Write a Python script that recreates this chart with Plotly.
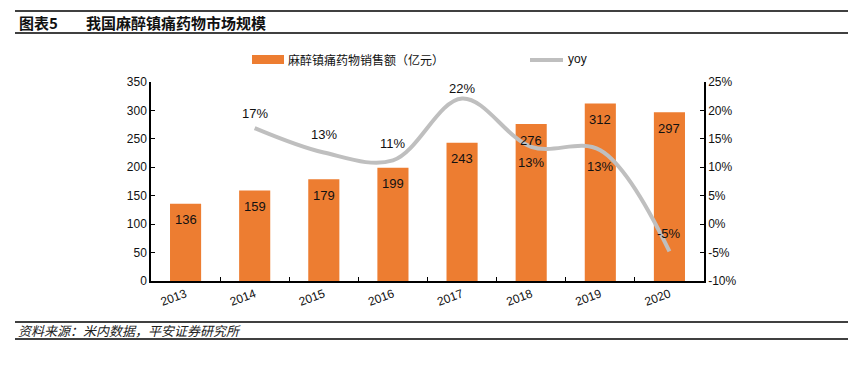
import plotly.graph_objects as go

# ---- data ----
years = ["2013", "2014", "2015", "2016", "2017", "2018", "2019", "2020"]
sales = [136, 159, 179, 199, 243, 276, 312, 297]          # 亿元
yoy_years = ["2014", "2015", "2016", "2017", "2018", "2019", "2020"]
yoy = [16.9, 12.6, 11.2, 22.1, 13.6, 13.0, -4.8]          # %
yoy_labels = ["17%", "13%", "11%", "22%", "13%", "13%", "-5%"]
left_ticks = [0, 50, 100, 150, 200, 250, 300, 350]
right_ticks = [-10, -5, 0, 5, 10, 15, 20, 25]

title_num = "图表5"
title_txt = "我国麻醉镇痛药物市场规模"
legend_bar = "麻醉镇痛药物销售额（亿元）"
legend_line = "yoy"
source_txt = "资料来源：米内数据，平安证券研究所"

# ---- style ----
ORANGE = "#ED7D31"
GRAY = "#BFBFBF"
RULE = "#404040"
FONT = "Liberation Sans, Arial, Noto Sans CJK SC, sans-serif"
CJK = "Noto Sans CJK SC, Liberation Sans, sans-serif"

# page body has an 8px margin; screen coords below are converted
OFF = 8
W, H = 863 - OFF, 366 - OFF
L, T = 151 - OFF, 82 - OFF
R = W - (704 - OFF)
B = H - (281 - OFF)
pw, ph = W - L - R, H - T - B


def px(x):
    return (x - OFF - L) / pw


def py(y):
    return 1 - (y - OFF - T) / ph


fig = go.Figure()
fig.add_trace(go.Bar(x=years, y=sales, marker=dict(color=ORANGE, line=dict(width=0)),
                     name=legend_bar, yaxis="y", showlegend=False))
fig.add_trace(go.Scatter(x=yoy_years, y=yoy, mode="lines", yaxis="y2",
                         line=dict(color=GRAY, width=4, shape="spline", smoothing=1.0),
                         name=legend_line, showlegend=False))

ann = []
# bar labels (inside, near top); category axis -> use category index
for c, v in zip(years, sales):
    ann.append(dict(x=years.index(c), y=v, xref="x", yref="y", text=str(v), showarrow=False,
                    yshift=-16, font=dict(family=FONT, size=13, color="#111")))
# yoy labels
yoy_shift = [15, 18, 17, 10, -16, -16, 18]
for c, v, t, s in zip(yoy_years, yoy, yoy_labels, yoy_shift):
    ann.append(dict(x=years.index(c), y=v, xref="x", yref="y2", text=t, showarrow=False,
                    yshift=s, font=dict(family=FONT, size=13, color="#111")))

# title, legend, source
ann.append(dict(x=px(17), y=py(22), xref="paper", yref="paper", xanchor="left", yanchor="middle",
                text="<b>" + title_num + "</b>", showarrow=False,
                font=dict(family=CJK, size=15, color="#111")))
ann.append(dict(x=px(84), y=py(22), xref="paper", yref="paper", xanchor="left", yanchor="middle",
                text="<b>" + title_txt + "</b>", showarrow=False,
                font=dict(family=CJK, size=15, color="#111")))
ann.append(dict(x=px(286), y=py(60), xref="paper", yref="paper", xanchor="left", yanchor="middle",
                text=legend_bar, showarrow=False, font=dict(family=CJK, size=12, color="#111")))
ann.append(dict(x=px(566), y=py(59), xref="paper", yref="paper", xanchor="left", yanchor="middle",
                text=legend_line, showarrow=False, font=dict(family=FONT, size=12, color="#111")))
ann.append(dict(x=px(16), y=py(330), xref="paper", yref="paper", xanchor="left", yanchor="middle",
                text="<i>" + source_txt + "</i>", showarrow=False,
                font=dict(family=CJK, size=13, color="#222")))

shapes = []
for yy in (11, 33, 322, 339):
    shapes.append(dict(type="line", xref="paper", yref="paper", x0=px(15), x1=px(848),
                       y0=py(yy), y1=py(yy), line=dict(color=RULE, width=2)))
shapes.append(dict(type="rect", xref="paper", yref="paper", x0=px(252), x1=px(284),
                   y0=py(64), y1=py(55), fillcolor=ORANGE, line=dict(width=0)))
shapes.append(dict(type="line", xref="paper", yref="paper", x0=px(530), x1=px(563),
                   y0=py(60), y1=py(60), line=dict(color=GRAY, width=4)))

fig.update_layout(
    width=W, height=H, margin=dict(l=L, r=R, t=T, b=B),
    paper_bgcolor="white", plot_bgcolor="white",
    bargap=0.55, annotations=ann, shapes=shapes,
    font=dict(family=FONT, size=12, color="#111"),
    xaxis=dict(type="category", categoryorder="array", categoryarray=years,
               range=[-0.5, len(years) - 0.5], autorange=False,
               showline=True, linecolor="black", linewidth=1.5,
               ticks="inside", ticklen=4, tickcolor="black", tickson="boundaries",
               tickangle=-20, tickfont=dict(family=FONT, size=12),
               showgrid=False, zeroline=False),
    yaxis=dict(range=[0, 350], tickvals=left_ticks, showline=True, linecolor="black",
               linewidth=1.5, ticks="inside", ticklen=4, tickcolor="black",
               tickfont=dict(family=FONT, size=12), showgrid=False, zeroline=False),
    yaxis2=dict(range=[-10, 25], tickvals=right_ticks, ticktext=[f"{v}%" for v in right_ticks],
                overlaying="y", side="right", showline=True, linecolor="black",
                linewidth=1.5, ticks="inside", ticklen=4, tickcolor="black",
                tickfont=dict(family=FONT, size=12), showgrid=False, zeroline=False),
)

fig.write_html("out.html")
